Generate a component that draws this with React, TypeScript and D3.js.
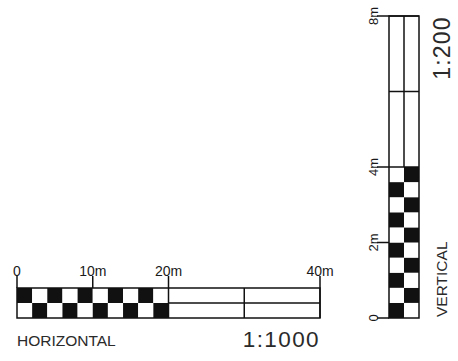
import React from "react";
import * as d3 from "d3";

// Horizontal scale (1:1000), metres
const hTicks = [0, 10, 20, 40];
const hTickLabels = ["0", "10m", "20m", "40m"];
const hCheckerStarts = [0, 2, 4, 6, 8, 10, 12, 14, 16, 18];
const hCheckerSize = 2;
const hPlainSegments = [20, 30, 40];
const hTitle = "HORIZONTAL";
const hRatio = "1:1000";

// Vertical scale (1:200), metres
const vTicks = [0, 2, 4, 8];
const vTickLabels = ["0", "2m", "4m", "8m"];
const vCheckerStarts = [0, 0.4, 0.8, 1.2, 1.6, 2.0, 2.4, 2.8, 3.2, 3.6];
const vCheckerSize = 0.4;
const vPlainSegments = [4, 6, 8];
const vTitle = "VERTICAL";
const vRatio = "1:200";

const INK = "#111";
const FONT = "'Liberation Sans', Arial, sans-serif";

export default function App() {
  const W = 458, H = 361;
  const x = d3.scaleLinear().domain([0, 40]).range([17, 320]);
  const hTop = 288, hMid = 303, hBot = 318;
  const y = d3.scaleLinear().domain([0, 8]).range([318, 16]);
  const vLeft = 389, vMid = 404, vRight = 419;
  const sw = 1.5;

  return (
    <svg width={W} height={H} style={{ position: "absolute", left: 0, top: 0, background: "#fff" }}>
      <rect x={0} y={0} width={W} height={H} fill="#fff" />
      {/* ---------- Horizontal ---------- */}
      {hCheckerStarts.map((s, i) => (
        <g key={"hc" + i}>
          <rect x={x(s)} y={hTop} width={x(s + hCheckerSize) - x(s)} height={hMid - hTop}
            fill={i % 2 === 0 ? INK : "#fff"} />
          <rect x={x(s)} y={hMid} width={x(s + hCheckerSize) - x(s)} height={hBot - hMid}
            fill={i % 2 === 0 ? "#fff" : INK} />
        </g>
      ))}
      <rect x={x(0)} y={hTop} width={x(40) - x(0)} height={hBot - hTop} fill="none" stroke={INK} strokeWidth={sw} />
      <line x1={x(hPlainSegments[0])} x2={x(40)} y1={hMid} y2={hMid} stroke={INK} strokeWidth={sw} />
      {hPlainSegments.map((s, i) => (
        <line key={"hp" + i} x1={x(s)} x2={x(s)} y1={hTop} y2={hBot} stroke={INK} strokeWidth={sw} />
      ))}
      {hTicks.map((t, i) => (
        <g key={"ht" + i}>
          <line x1={x(t)} x2={x(t)} y1={276} y2={hTop} stroke={INK} strokeWidth={sw} />
          <text x={x(t)} y={275.5} textAnchor="middle" fontFamily={FONT} fontSize={14} fill="#1a1a1a">
            {hTickLabels[i]}
          </text>
        </g>
      ))}
      <text x={17} y={346} fontFamily={FONT} fontSize={15.5} fill="#2a2a2a">{hTitle}</text>
      <text x={320} y={347} textAnchor="end" fontFamily={FONT} fontSize={22.5} letterSpacing={1.4} fill="#2a2a2a">{hRatio}</text>

      {/* ---------- Vertical ---------- */}
      {vCheckerStarts.map((s, i) => (
        <g key={"vc" + i}>
          <rect x={vLeft} y={y(s + vCheckerSize)} width={vMid - vLeft} height={y(s) - y(s + vCheckerSize)}
            fill={i % 2 === 0 ? INK : "#fff"} />
          <rect x={vMid} y={y(s + vCheckerSize)} width={vRight - vMid} height={y(s) - y(s + vCheckerSize)}
            fill={i % 2 === 0 ? "#fff" : INK} />
        </g>
      ))}
      <rect x={vLeft} y={y(8)} width={vRight - vLeft} height={y(0) - y(8)} fill="none" stroke={INK} strokeWidth={sw} />
      <line x1={vMid} x2={vMid} y1={y(vPlainSegments[0])} y2={y(8)} stroke={INK} strokeWidth={sw} />
      {vPlainSegments.map((s, i) => (
        <line key={"vp" + i} x1={vLeft} x2={vRight} y1={y(s)} y2={y(s)} stroke={INK} strokeWidth={sw} />
      ))}
      {vTicks.map((t, i) => (
        <g key={"vt" + i}>
          <line x1={377} x2={vLeft} y1={y(t)} y2={y(t)} stroke={INK} strokeWidth={sw} />
          <text transform={`translate(377.5,${y(t)}) rotate(-90)`} textAnchor="middle" fontFamily={FONT}
            fontSize={13} fill="#1a1a1a">
            {vTickLabels[i]}
          </text>
        </g>
      ))}
      <text transform={`translate(447,317) rotate(-90)`} fontFamily={FONT} fontSize={15.5} fill="#2a2a2a">{vTitle}</text>
      <text transform={`translate(450,48) rotate(-90)`} textAnchor="middle" fontFamily={FONT} fontSize={23}
        letterSpacing={1.2} fill="#2a2a2a">{vRatio}</text>
    </svg>
  );
}
